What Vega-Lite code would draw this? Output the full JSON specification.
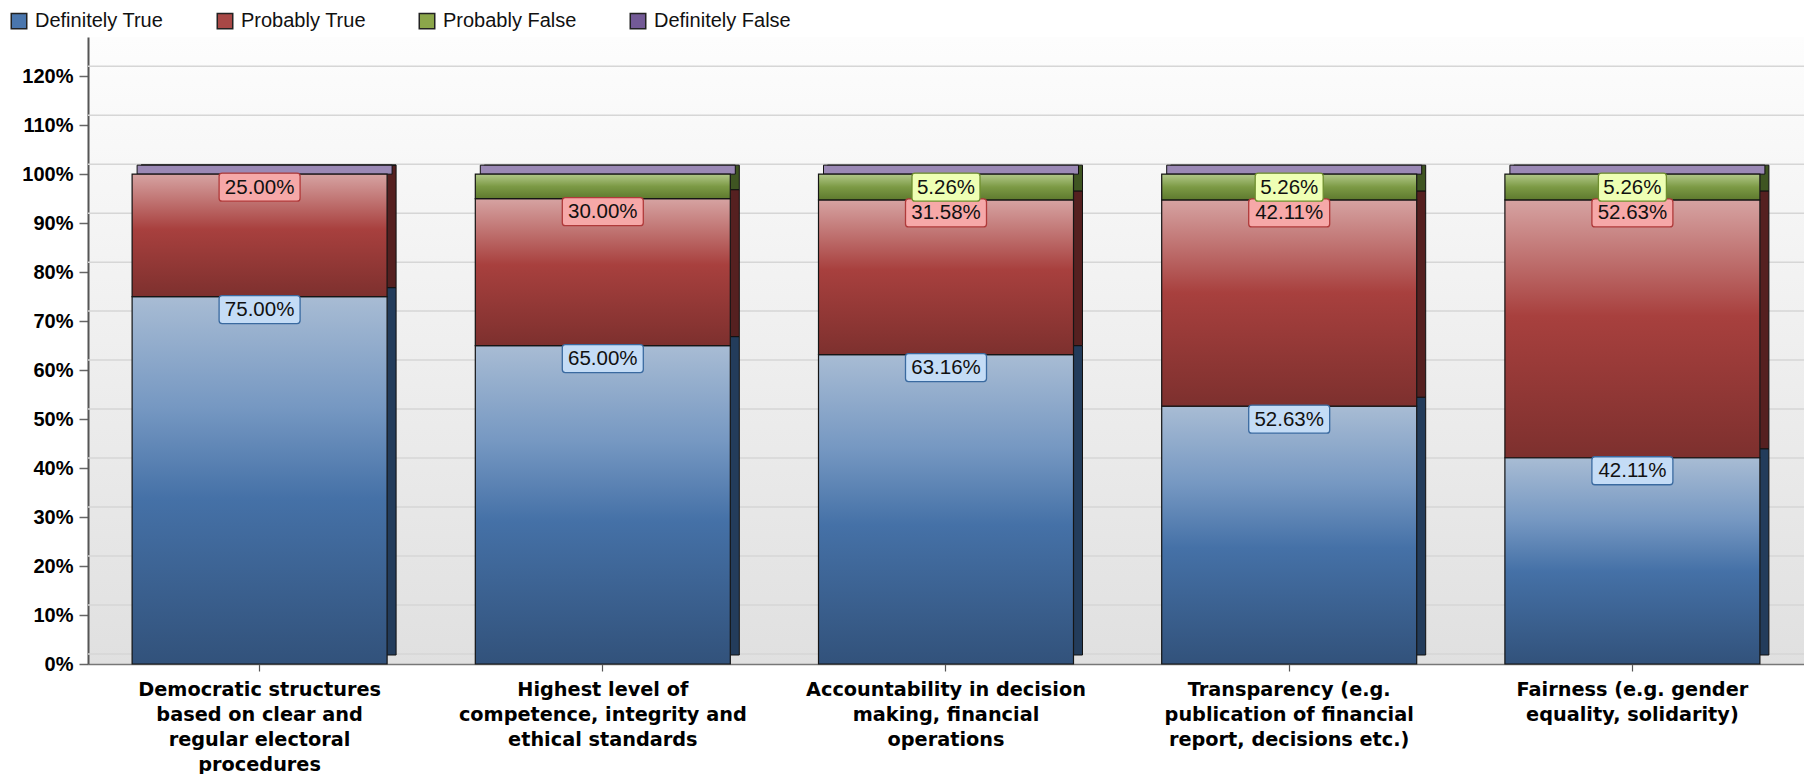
{
  "$schema": "https://vega.github.io/schema/vega-lite/v6.json",
  "width": 1716,
  "height": 627,
  "autosize": {"type": "none"},
  "padding": {"left": 88, "top": 37, "right": 0, "bottom": 110},
  "background": "#ffffff",
  "view": {"stroke": null, "fill": {"gradient": "linear", "x1": 0, "y1": 0, "x2": 0, "y2": 1, "stops": [{"offset": 0, "color": "#fdfdfd"}, {"offset": 1, "color": "#e0e0e0"}]}},
  "datasets": {
    "survey": [
      {"category": "Democratic structures based on clear and regular electoral procedures", "series": "Definitely True", "share": 0.75},
      {"category": "Democratic structures based on clear and regular electoral procedures", "series": "Probably True", "share": 0.25},
      {"category": "Democratic structures based on clear and regular electoral procedures", "series": "Probably False", "share": 0},
      {"category": "Democratic structures based on clear and regular electoral procedures", "series": "Definitely False", "share": 0},
      {"category": "Highest level of competence, integrity and ethical standards", "series": "Definitely True", "share": 0.65},
      {"category": "Highest level of competence, integrity and ethical standards", "series": "Probably True", "share": 0.30},
      {"category": "Highest level of competence, integrity and ethical standards", "series": "Probably False", "share": 0.05},
      {"category": "Highest level of competence, integrity and ethical standards", "series": "Definitely False", "share": 0},
      {"category": "Accountability in decision making, financial operations", "series": "Definitely True", "share": 0.6316},
      {"category": "Accountability in decision making, financial operations", "series": "Probably True", "share": 0.3158},
      {"category": "Accountability in decision making, financial operations", "series": "Probably False", "share": 0.0526},
      {"category": "Accountability in decision making, financial operations", "series": "Definitely False", "share": 0},
      {"category": "Transparency (e.g. publication of financial report, decisions etc.)", "series": "Definitely True", "share": 0.5263},
      {"category": "Transparency (e.g. publication of financial report, decisions etc.)", "series": "Probably True", "share": 0.4211},
      {"category": "Transparency (e.g. publication of financial report, decisions etc.)", "series": "Probably False", "share": 0.0526},
      {"category": "Transparency (e.g. publication of financial report, decisions etc.)", "series": "Definitely False", "share": 0},
      {"category": "Fairness (e.g. gender equality, solidarity)", "series": "Definitely True", "share": 0.4211},
      {"category": "Fairness (e.g. gender equality, solidarity)", "series": "Probably True", "share": 0.5263},
      {"category": "Fairness (e.g. gender equality, solidarity)", "series": "Probably False", "share": 0.0526},
      {"category": "Fairness (e.g. gender equality, solidarity)", "series": "Definitely False", "share": 0}
    ],
    "grid": [
      {"tick": 0}, {"tick": 0.1}, {"tick": 0.2}, {"tick": 0.3}, {"tick": 0.4}, {"tick": 0.5}, {"tick": 0.6},
      {"tick": 0.7}, {"tick": 0.8}, {"tick": 0.9}, {"tick": 1.0}, {"tick": 1.1}, {"tick": 1.2}
    ]
  },
  "layer": [
    {
      "data": {"name": "grid"},
      "mark": {"type": "rule", "color": "#d6d6d6", "strokeWidth": 1.5, "yOffset": -10, "xOffset": 10},
      "encoding": {
        "y": {"field": "tick", "type": "quantitative", "title": null, "scale": {"domain": [0, 1.28], "nice": false, "zero": true}}
      }
    },
    {
      "data": {"name": "survey"},
      "transform": [{"stack": "share", "groupby": ["category"], "as": ["lo", "hi"]}],
      "encoding": {
        "x": {
          "field": "category", "type": "nominal", "sort": null,
          "scale": {"paddingInner": 0.257, "paddingOuter": 0.1285},
          "axis": {
            "title": null, "labelAngle": 0, "labelLimit": 0,
            "labelExpr": "datum.label == 'Democratic structures based on clear and regular electoral procedures' ? ['Democratic structures','based on clear and','regular electoral','procedures'] : datum.label == 'Highest level of competence, integrity and ethical standards' ? ['Highest level of','competence, integrity and','ethical standards'] : datum.label == 'Accountability in decision making, financial operations' ? ['Accountability in decision','making, financial','operations'] : datum.label == 'Transparency (e.g. publication of financial report, decisions etc.)' ? ['Transparency (e.g.','publication of financial','report, decisions etc.)'] : ['Fairness (e.g. gender','equality, solidarity)']",
            "labelFont": "DejaVu Sans", "labelFontWeight": "bold", "labelFontSize": 19.3, "labelLineHeight": 25,
            "labelColor": "#000000", "labelPadding": 9.5, "labelOverlap": false,
            "tickSize": 7, "tickColor": "#555555", "tickWidth": 1.2,
            "domainColor": "#777777", "domainWidth": 1.5
          }
        },
        "y": {
          "field": "hi", "type": "quantitative", "title": null,
          "scale": {"domain": [0, 1.28], "nice": false, "zero": true},
          "axis": {
            "values": [0, 0.1, 0.2, 0.3, 0.4, 0.5, 0.6, 0.7, 0.8, 0.9, 1.0, 1.1, 1.2],
            "format": ".0%", "title": null, "grid": false,
            "labelFont": "Liberation Sans", "labelFontWeight": "bold", "labelFontSize": 20, "labelColor": "#000000",
            "labelPadding": 6, "tickSize": 9, "tickWidth": 1.5, "tickColor": "#666666",
            "domainColor": "#555555", "domainWidth": 2
          }
        }
      },
      "layer": [
        {
          "transform": [{"filter": "datum.series == 'Definitely True'"}],
          "mark": {"type": "bar", "xOffset": 9, "x2Offset": 9, "yOffset": -9, "y2Offset": -9, "fill": "#233c5b", "stroke": "#111111", "strokeWidth": 1},
          "encoding": {"y2": {"field": "lo"}}
        },
        {
          "transform": [{"filter": "datum.series == 'Probably True'"}],
          "mark": {"type": "bar", "xOffset": 9, "x2Offset": 9, "yOffset": -9, "y2Offset": -9, "fill": "#552020", "stroke": "#111111", "strokeWidth": 1},
          "encoding": {"y2": {"field": "lo"}}
        },
        {
          "transform": [{"filter": "datum.series == 'Probably False'"}],
          "mark": {"type": "bar", "xOffset": 9, "x2Offset": 9, "yOffset": -9, "y2Offset": -9, "fill": "#3f5522", "stroke": "#111111", "strokeWidth": 1},
          "encoding": {"y2": {"field": "lo"}}
        },
        {
          "transform": [{"filter": "datum.series == 'Definitely False'"}],
          "mark": {"type": "bar", "xOffset": 5, "x2Offset": 5, "yOffset": -9, "fill": "#9b89b5", "stroke": "#111111", "strokeWidth": 1},
          "encoding": {"y2": {"field": "lo"}}
        },
        {
          "mark": {"type": "bar"},
          "encoding": {
            "y2": {"field": "lo"},
            "color": {
              "field": "series", "type": "nominal",
              "scale": {"domain": ["Definitely True", "Probably True", "Probably False", "Definitely False"], "range": ["#4a76ad", "#a84846", "#8ba64a", "#735a96"]},
              "legend": {
                "title": null, "orient": "none", "legendX": -79, "legendY": -26, "direction": "horizontal",
                "symbolType": "square", "symbolSize": 240, "symbolStrokeColor": "#222222", "symbolStrokeWidth": 1.5,
                "symbolOpacity": 1,
                "labelFont": "Liberation Sans", "labelFontSize": 20, "labelColor": "#111111", "labelOffset": 6,
                "columnPadding": 50, "labelLimit": 0
              }
            }
          }
        },
        {
          "transform": [{"filter": "datum.series == 'Definitely True'"}],
          "mark": {"type": "bar", "stroke": "#151515", "strokeWidth": 1.2,
            "fill": {"gradient": "linear", "x1": 0, "y1": 0, "x2": 0, "y2": 1, "stops": [{"offset": 0, "color": "#a8bcd4"}, {"offset": 0.3, "color": "#7698c2"}, {"offset": 0.55, "color": "#4571a7"}, {"offset": 1, "color": "#32527b"}]}},
          "encoding": {"y2": {"field": "lo"}}
        },
        {
          "transform": [{"filter": "datum.series == 'Probably True'"}],
          "mark": {"type": "bar", "stroke": "#151515", "strokeWidth": 1.2,
            "fill": {"gradient": "linear", "x1": 0, "y1": 0, "x2": 0, "y2": 1, "stops": [{"offset": 0, "color": "#d6a3a2"}, {"offset": 0.45, "color": "#a8403e"}, {"offset": 1, "color": "#7d302e"}]}},
          "encoding": {"y2": {"field": "lo"}}
        },
        {
          "transform": [{"filter": "datum.series == 'Probably False' && datum.share > 0"}],
          "mark": {"type": "bar", "stroke": "#151515", "strokeWidth": 1.2,
            "fill": {"gradient": "linear", "x1": 0, "y1": 0, "x2": 0, "y2": 1, "stops": [{"offset": 0, "color": "#b2c88a"}, {"offset": 0.5, "color": "#7c9a45"}, {"offset": 1, "color": "#5e7a2e"}]}},
          "encoding": {"y2": {"field": "lo"}}
        },
        {
          "transform": [{"filter": "datum.series == 'Definitely True' && datum.share > 0"}],
          "mark": {"type": "bar", "width": 81, "cornerRadius": 3, "yOffset": -1, "y2Offset": 27, "fill": "#c4dcf6", "stroke": "#3a6aa0", "strokeWidth": 1.3},
          "encoding": {"y2": {"field": "hi"}}
        },
        {
          "transform": [{"filter": "datum.series == 'Probably True' && datum.share > 0"}],
          "mark": {"type": "bar", "width": 81, "cornerRadius": 3, "yOffset": -1, "y2Offset": 27, "fill": "#f6a8a8", "stroke": "#b03a3a", "strokeWidth": 1.3},
          "encoding": {"y2": {"field": "hi"}}
        },
        {
          "transform": [{"filter": "datum.series == 'Probably False' && datum.share > 0.051"}],
          "mark": {"type": "bar", "width": 68, "cornerRadius": 3, "yOffset": -1, "y2Offset": 27, "fill": "#eeffb4", "stroke": "#6f8f2f", "strokeWidth": 1.3},
          "encoding": {"y2": {"field": "hi"}}
        },
        {
          "transform": [{"filter": "datum.series != 'Definitely False' && datum.share > 0 && datum.share != 0.05"}],
          "mark": {"type": "text", "font": "Liberation Sans", "fontSize": 20.5, "color": "#111111", "baseline": "middle", "align": "center", "yOffset": 13.5},
          "encoding": {
            "text": {"field": "share", "type": "quantitative", "format": ".2%"}
          }
        }
      ]
    }
  ]
}
